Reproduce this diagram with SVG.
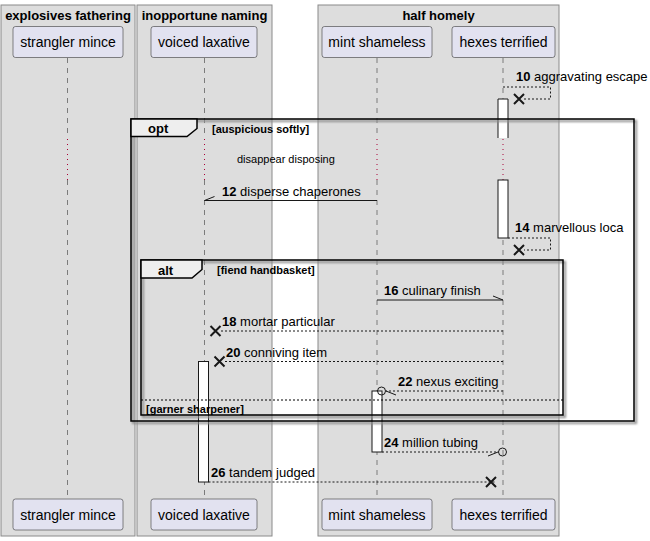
<svg xmlns="http://www.w3.org/2000/svg" width="650" height="541" viewBox="0 0 650 541">
  <style>
    .box { fill: #DDDDDD; stroke: #8A8A8A; stroke-width: 1; }
    .boxtitle { font-family: "Liberation Sans", Arial, sans-serif; font-size: 13px; font-weight: bold; fill: #000; text-anchor: middle; }
    .part { fill: #E2E2F0; stroke: #181818; stroke-width: 0.5; }
    .pname { font-family: "Liberation Sans", Arial, sans-serif; font-size: 14px; fill: #000; text-anchor: middle; }
    .life { stroke: #181818; stroke-width: 0.5; stroke-dasharray: 5,5; fill: none; }
    .delay { stroke: #A80036; stroke-width: 1; stroke-dasharray: 1,4; fill: none; }
    .act { fill: #FFFFFF; stroke: #181818; stroke-width: 1; }
    .frame { fill: none; stroke: #000; stroke-width: 1.5; }
    .tab { fill: #EEEEEE; stroke: #000; stroke-width: 1.5; }
    .shadow { fill: none; stroke: #8C8C8C; stroke-width: 2; filter: url(#blur); }
    .kw { font-family: "Liberation Sans", Arial, sans-serif; font-size: 13px; font-weight: bold; fill: #000; }
    .cond { font-family: "Liberation Sans", Arial, sans-serif; font-size: 11px; font-weight: bold; fill: #000; }
    .msg { font-family: "Liberation Sans", Arial, sans-serif; font-size: 13px; fill: #000; }
    .note { font-family: "Liberation Sans", Arial, sans-serif; font-size: 11px; fill: #000; }
    .solid { stroke: #181818; stroke-width: 1; fill: none; }
    .dash { stroke: #181818; stroke-width: 1; stroke-dasharray: 2,2; fill: none; }
    .cross { stroke: #181818; stroke-width: 2; fill: none; }
    .sep { stroke: #000; stroke-width: 1; stroke-dasharray: 2,2; fill: none; }
  </style>
  <defs>
    <filter id="blur" x="-5%" y="-5%" width="110%" height="110%">
      <feGaussianBlur stdDeviation="0.8"/>
    </filter>
  </defs>

  <!-- participant boxes -->
  <g id="box-explosives-fathering">
    <rect class="box" x="1" y="5" width="134" height="531"/>
    <text class="boxtitle" x="68" y="19.5">explosives fathering</text>
  </g>
  <g id="box-inopportune-naming">
    <rect class="box" x="137" y="5" width="135" height="531"/>
    <text class="boxtitle" x="204.5" y="19.5">inopportune naming</text>
  </g>
  <g id="box-half-homely">
    <rect class="box" x="318" y="5" width="241" height="531"/>
    <text class="boxtitle" x="438.5" y="19.5">half homely</text>
  </g>

  <!-- lifelines -->
  <g id="lifelines">
    <path class="life" d="M67.5,58 V138 M67.5,180 V499"/>
    <path class="life" d="M204.5,58 V138 M204.5,180 V499"/>
    <path class="life" d="M377,58 V138 M377,180 V499"/>
    <path class="life" d="M503,58 V138 M503,180 V499"/>
    <path class="delay" d="M67.5,139 V180 M204.5,139 V180 M377,139 V180 M503,139 V180"/>
  </g>

  <!-- participants -->
  <g id="strangler-mince">
    <rect class="part" x="13" y="26.5" width="110" height="31" rx="2.5"/>
    <text class="pname" x="68" y="47">strangler mince</text>
    <rect class="part" x="13" y="499" width="110" height="31" rx="2.5"/>
    <text class="pname" x="68" y="519.5">strangler mince</text>
  </g>
  <g id="voiced-laxative">
    <rect class="part" x="151" y="26.5" width="106" height="31" rx="2.5"/>
    <text class="pname" x="204" y="47">voiced laxative</text>
    <rect class="part" x="151" y="499" width="106" height="31" rx="2.5"/>
    <text class="pname" x="204" y="519.5">voiced laxative</text>
  </g>
  <g id="mint-shameless">
    <rect class="part" x="322" y="26.5" width="110" height="31" rx="2.5"/>
    <text class="pname" x="377" y="47">mint shameless</text>
    <rect class="part" x="322" y="499" width="110" height="31" rx="2.5"/>
    <text class="pname" x="377" y="519.5">mint shameless</text>
  </g>
  <g id="hexes-terrified">
    <rect class="part" x="452" y="26.5" width="103" height="31" rx="2.5"/>
    <text class="pname" x="503.5" y="47">hexes terrified</text>
    <rect class="part" x="452" y="499" width="103" height="31" rx="2.5"/>
    <text class="pname" x="503.5" y="519.5">hexes terrified</text>
  </g>

  <!-- activations -->
  <g id="activations">
    <rect x="498" y="99" width="10" height="39" fill="#FFFFFF"/>
    <path class="act" d="M498,138 V99 H508 V138"/>
    <rect class="act" x="498" y="180" width="10" height="58"/>
    <rect class="act" x="198.5" y="361.5" width="10" height="120.5"/>
    <rect class="act" x="372" y="391" width="10" height="61"/>
  </g>

  <!-- combined fragments -->
  <g id="frame-opt">
    <rect class="shadow" x="133" y="121" width="503" height="302"/>
    <rect class="frame" x="131" y="119" width="503" height="302"/>
    <path class="tab" d="M131,119 H197 V128.5 L187,136.5 H131 Z"/>
    <text class="kw" x="148" y="133">opt</text>
    <text class="cond" x="212" y="132.5">[auspicious softly]</text>
    <text class="note" x="237" y="163">disappear disposing</text>
  </g>
  <g id="frame-alt">
    <rect class="shadow" x="143" y="262" width="422" height="155"/>
    <rect class="frame" x="141" y="260" width="422" height="155"/>
    <path class="tab" d="M141,260 H202 V269.5 L192,278 H141 Z"/>
    <text class="kw" x="158" y="274.5">alt</text>
    <text class="cond" x="217" y="273.5">[fiend handbasket]</text>
    <line class="sep" x1="141" y1="400" x2="563" y2="400"/>
    <text class="cond" x="146" y="412.5">[garner sharpener]</text>
  </g>

  <!-- messages -->
  <g id="connectors">
    <!-- 10 -->
    <path class="dash" d="M503,87 H550.5 V99 H524"/>
    <path class="cross" d="M514,94 L524,104 M524,94 L514,104"/>
    <text class="msg" x="516" y="81"><tspan font-weight="bold">10</tspan> aggravating escape</text>
    <!-- 12 -->
    <path class="solid" d="M377,200.5 H204.5 M204.5,200.5 L214.5,196.5"/>
    <text class="msg" x="222" y="196"><tspan font-weight="bold">12</tspan> disperse chaperones</text>
    <!-- 14 -->
    <path class="dash" d="M508,238 H550.5 V250 H524"/>
    <path class="cross" d="M514,245 L524,255 M524,245 L514,255"/>
    <text class="msg" x="515" y="232"><tspan font-weight="bold">14</tspan> marvellous loca</text>
    <!-- 16 -->
    <path class="solid" d="M377,300 H503 M503,300 L493,296"/>
    <text class="msg" x="384" y="295"><tspan font-weight="bold">16</tspan> culinary finish</text>
    <!-- 18 -->
    <path class="dash" d="M503,331 H221"/>
    <path class="cross" d="M210.5,326 L220.5,336 M220.5,326 L210.5,336"/>
    <text class="msg" x="222" y="326"><tspan font-weight="bold">18</tspan> mortar particular</text>
    <!-- 20 -->
    <path class="dash" d="M503,361.5 H225"/>
    <path class="cross" d="M214.5,356.5 L224.5,366.5 M224.5,356.5 L214.5,366.5"/>
    <text class="msg" x="226" y="357"><tspan font-weight="bold">20</tspan> conniving item</text>
    <!-- 22 -->
    <path class="dash" d="M503,391 H386"/>
    <circle cx="381.5" cy="391" r="4" fill="none" stroke="#181818" stroke-width="1"/>
    <line class="solid" x1="386" y1="391" x2="396" y2="395"/>
    <text class="msg" x="398" y="386"><tspan font-weight="bold">22</tspan> nexus exciting</text>
    <!-- 24 -->
    <path class="dash" d="M382,452 H498.5"/>
    <circle cx="502.5" cy="452" r="4" fill="none" stroke="#181818" stroke-width="1"/>
    <line class="solid" x1="488" y1="456" x2="498" y2="452"/>
    <text class="msg" x="384" y="446.5"><tspan font-weight="bold">24</tspan> million tubing</text>
    <!-- 26 -->
    <path class="dash" d="M208.5,482 H496"/>
    <path class="cross" d="M486,477 L496,487 M496,477 L486,487"/>
    <text class="msg" x="211" y="477"><tspan font-weight="bold">26</tspan> tandem judged</text>
  </g>
</svg>
